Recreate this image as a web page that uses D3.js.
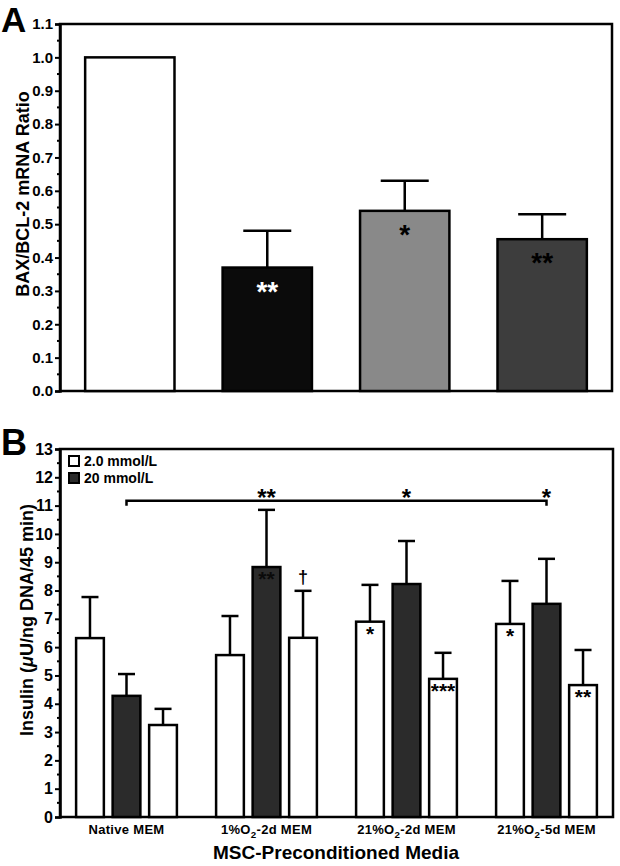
<!DOCTYPE html>
<html><head><meta charset="utf-8">
<script src="https://cdn.jsdelivr.net/npm/d3@7"></script>
<style>
html,body{margin:0;padding:0;background:#fff;}
text{font-family:"Liberation Sans",Arial,Helvetica,sans-serif;font-weight:bold;}
</style></head>
<body>
<svg id="c" width="620" height="866"></svg>
<script>
// ---------- Panel A data ----------
const catsA = ["Native MEM", "1%O2-2d MEM", "21%O2-2d MEM", "21%O2-5d MEM"];
const valuesA = [1.0, 0.37, 0.54, 0.455];
const errorsA = [0.0, 0.11, 0.09, 0.075];
const colorsA = ["#ffffff", "#0b0b0b", "#898989", "#3d3d3d"];
const starsA = ["", "**", "*", "**"];
const starColorsA = ["#000", "#fff", "#000", "#000"];
const ticksA = [0,0.1,0.2,0.3,0.4,0.5,0.6,0.7,0.8,0.9,1.0,1.1];

// ---------- Panel B data ----------
const groupsB = ["Native MEM", "1%O2-2d MEM", "21%O2-2d MEM", "21%O2-5d MEM"];
const series1 = [6.32, 5.72, 6.90, 6.82];   // 2.0 mmol/L
const series2 = [4.28, 8.83, 8.23, 7.53];   // 20 mmol/L
const series3 = [3.25, 6.33, 4.88, 4.66];   // 2.0 mmol/L (after)
const err1 = [1.45, 1.38, 1.30, 1.52];
const err2 = [0.77, 2.02, 1.52, 1.59];
const err3 = [0.57, 1.66, 0.92, 1.24];
const starsB = [["", "", ""], ["", "**", "†"], ["*", "", "***"], ["*", "", "**"]];
const legendB = ["2.0 mmol/L", "20 mmol/L"];
const ticksB = [0,1,2,3,4,5,6,7,8,9,10,11,12,13];
const bracketB = {value: 11.17, from: 0, to: 3, stars: ["**", "*", "*"]};

const svg = d3.select("#c");

function subLabel(sel, s){
  const parts = s.split("O2");
  sel.text(null);
  sel.append("tspan").text(parts[0] + (parts.length>1 ? "O" : ""));
  if (parts.length>1){
    sel.append("tspan").attr("dy", 4).attr("font-size", "0.75em").text("2");
    sel.append("tspan").attr("dy", -4).text(parts[1]);
  }
}

// ================= PANEL A =================
const xA = d3.scaleBand().domain(catsA).range([60, 612]).paddingInner(0.35).paddingOuter(0.183);
const yA = d3.scaleLinear().domain([0, 1.1]).range([391, 24]);

const gA = svg.append("g");
gA.append("rect").attr("x", xA.range()[0]).attr("y", yA(1.1))
  .attr("width", xA.range()[1]-xA.range()[0]).attr("height", yA(0)-yA(1.1))
  .attr("fill", "none").attr("stroke", "#000").attr("stroke-width", 2.5);

const minorA = d3.range(0, 22).map(i => i*0.05 + 0.05).filter(v => Math.round(v*100)%10 !== 0 && v < 1.1);
gA.append("g").attr("transform", `translate(${xA.range()[0]},0)`)
  .selectAll("line").data(minorA).join("line")
  .attr("x1", -3).attr("x2", 0).attr("y1", d=>yA(d)).attr("y2", d=>yA(d))
  .attr("stroke", "#000").attr("stroke-width", 2);

const axA = gA.append("g").attr("transform", `translate(${xA.range()[0]},0)`)
  .call(d3.axisLeft(yA).tickValues(ticksA).tickFormat(d3.format(".1f")).tickSize(5).tickPadding(2));
axA.select(".domain").attr("stroke-width", 2.5);
axA.selectAll(".tick line").attr("stroke-width", 2);
axA.selectAll(".tick text").attr("font-size", 15).attr("font-weight", "bold").attr("fill", "#000")
  .attr("font-family", "Liberation Sans, Arial, sans-serif");

gA.selectAll("rect.bar").data(catsA).join("rect").attr("class", "bar")
  .attr("x", d=>xA(d)).attr("width", xA.bandwidth())
  .attr("y", (d,i)=>yA(valuesA[i])).attr("height", (d,i)=>yA(0)-yA(valuesA[i]))
  .attr("fill", (d,i)=>colorsA[i]).attr("stroke", "#000").attr("stroke-width", 2.5);

catsA.forEach((c,i)=>{
  if (errorsA[i] <= 0) return;
  const cx = xA(c) + xA.bandwidth()/2;
  gA.append("line").attr("x1", cx).attr("x2", cx)
    .attr("y1", yA(valuesA[i])).attr("y2", yA(valuesA[i]+errorsA[i]))
    .attr("stroke", "#000").attr("stroke-width", 2.5);
  gA.append("line").attr("x1", cx-24).attr("x2", cx+24)
    .attr("y1", yA(valuesA[i]+errorsA[i])).attr("y2", yA(valuesA[i]+errorsA[i]))
    .attr("stroke", "#000").attr("stroke-width", 2.5);
  gA.append("text").attr("x", cx).attr("y", yA(valuesA[i]) + 33)
    .attr("text-anchor", "middle").attr("font-size", 28).attr("fill", starColorsA[i])
    .text(starsA[i]);
});

svg.append("text").attr("transform", "translate(29,194) rotate(-90)")
  .attr("text-anchor", "middle").attr("font-size", 18).text("BAX/BCL-2 mRNA Ratio");
svg.append("text").attr("x", 1).attr("y", 32).attr("font-size", 35).text("A");

// ================= PANEL B =================
const xB = d3.scaleBand().domain(groupsB).range([60, 613]).paddingInner(0.28).paddingOuter(0.115);
const xIn = d3.scaleBand().domain([0,1,2]).range([0, xB.bandwidth()]).paddingInner(0.24);
const yB = d3.scaleLinear().domain([0, 13]).range([817, 449]);
const gB = svg.append("g");

gB.append("rect").attr("x", xB.range()[0]).attr("y", yB(13))
  .attr("width", xB.range()[1]-xB.range()[0]).attr("height", yB(0)-yB(13))
  .attr("fill", "none").attr("stroke", "#000").attr("stroke-width", 2.5);

const minorB = d3.range(0, 13).map(i => i + 0.5);
gB.append("g").attr("transform", `translate(${xB.range()[0]},0)`)
  .selectAll("line").data(minorB).join("line")
  .attr("x1", -3).attr("x2", 0).attr("y1", d=>yB(d)).attr("y2", d=>yB(d))
  .attr("stroke", "#000").attr("stroke-width", 2);

const axB = gB.append("g").attr("transform", `translate(${xB.range()[0]},0)`)
  .call(d3.axisLeft(yB).tickValues(ticksB).tickFormat(d3.format("d")).tickSize(5).tickPadding(2));
axB.select(".domain").attr("stroke-width", 2.5);
axB.selectAll(".tick line").attr("stroke-width", 2);
axB.selectAll(".tick text").attr("font-size", 16).attr("font-weight", "bold").attr("fill", "#000")
  .attr("font-family", "Liberation Sans, Arial, sans-serif");

const seriesVals = [series1, series2, series3];
const seriesErr = [err1, err2, err3];
const seriesCol = ["#ffffff", "#2b2b2b", "#ffffff"];

groupsB.forEach((g, gi)=>{
  [0,1,2].forEach(si=>{
    const v = seriesVals[si][gi], e = seriesErr[si][gi];
    const x0 = xB(g) + xIn(si), w = xIn.bandwidth(), cx = x0 + w/2;
    gB.append("line").attr("x1", cx).attr("x2", cx).attr("y1", yB(v)).attr("y2", yB(v+e))
      .attr("stroke", "#000").attr("stroke-width", 2.5);
    gB.append("line").attr("x1", cx-8.5).attr("x2", cx+8.5).attr("y1", yB(v+e)).attr("y2", yB(v+e))
      .attr("stroke", "#000").attr("stroke-width", 2.5);
    gB.append("rect").attr("x", x0).attr("width", w).attr("y", yB(v)).attr("height", yB(0)-yB(v))
      .attr("fill", seriesCol[si]).attr("stroke", "#000").attr("stroke-width", 2.5);
    const s = starsB[gi][si];
    if (s === "†") {
      gB.append("text").attr("x", cx).attr("y", yB(v+e) - 8).attr("text-anchor", "middle")
        .attr("font-size", 18).text(s);
    } else if (s) {
      gB.append("text").attr("x", cx).attr("y", yB(v) + 19).attr("text-anchor", "middle")
        .attr("font-size", 21).attr("fill", si===1 ? "#0a0a0a" : "#000").text(s);
    }
  });
  const t = gB.append("text").attr("x", xB(g) + xB.bandwidth()/2).attr("y", 834)
    .attr("text-anchor", "middle").attr("font-size", 13).attr("letter-spacing", 0.3);
  subLabel(t, g);
});

const bx0 = xB(groupsB[bracketB.from]) + xB.bandwidth()/2;
const bx3 = xB(groupsB[bracketB.to]) + xB.bandwidth()/2;
const by = yB(bracketB.value);
gB.append("path").attr("d", `M${bx0},${by+5}V${by}H${bx3}V${by+5}`)
  .attr("fill", "none").attr("stroke", "#000").attr("stroke-width", 2.5);
[1,2,3].forEach((gi, k)=>{
  gB.append("text").attr("x", xB(groupsB[gi]) + xB.bandwidth()/2).attr("y", by + 5)
    .attr("text-anchor", "middle").attr("font-size", 24).text(bracketB.stars[k]);
});

const legCol = ["#ffffff", "#2b2b2b"];
legendB.forEach((l, i)=>{
  const yy = 456 + i*17;
  gB.append("rect").attr("x", 69).attr("y", yy).attr("width", 10).attr("height", 10)
    .attr("fill", legCol[i]).attr("stroke", "#000").attr("stroke-width", 2);
  gB.append("text").attr("x", 84).attr("y", yy + 10).attr("font-size", 14).text(l);
});

svg.append("text").attr("transform", "translate(33,620) rotate(-90)")
  .attr("text-anchor", "middle").attr("font-size", 18)
  .call(t=>{
    t.append("tspan").text("Insulin (");
    t.append("tspan").attr("font-style", "italic").text("μ");
    t.append("tspan").text("U/ng DNA/45 min)");
  });
svg.append("text").attr("x", 336).attr("y", 859).attr("text-anchor", "middle")
  .attr("font-size", 19).text("MSC-Preconditioned Media");
svg.append("text").attr("x", 1).attr("y", 455).attr("font-size", 36).text("B");
</script>
</body></html>
